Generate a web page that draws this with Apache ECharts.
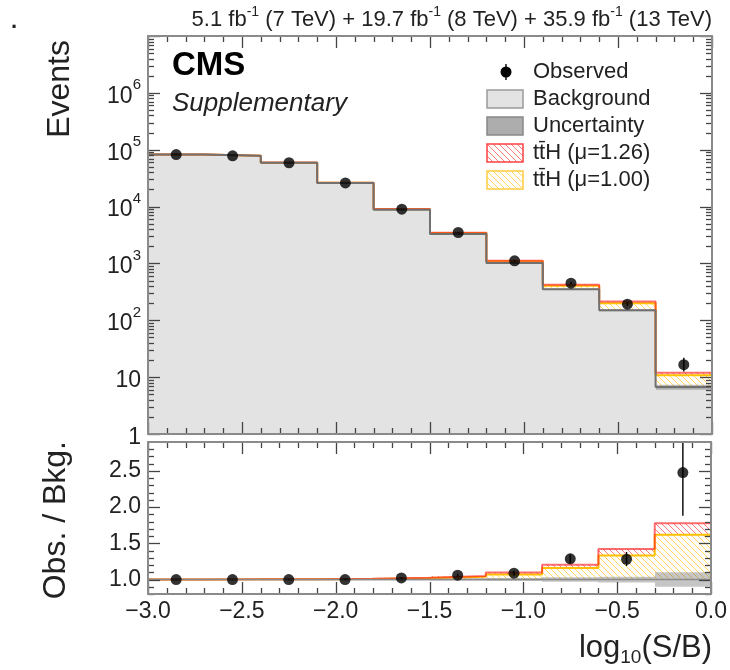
<!DOCTYPE html>
<html>
<head>
<meta charset="utf-8">
<title>ttH log10(S/B)</title>
<script src="https://cdn.jsdelivr.net/npm/echarts@6/dist/echarts.min.js"></script>
<style>
  html, body { margin: 0; padding: 0; background: #fff; }
  #chart { width: 730px; height: 670px; }
</style>
</head>
<body>
<div id="chart"></div>
<script>
// bins of log10(S/B)
const binEdges = [-3.0, -2.7, -2.4, -2.1, -1.8, -1.5, -1.2, -0.9, -0.6, -0.3, 0.0];
// yields per bin
const background = [82000, 78000, 59000, 26000, 8800, 3300, 1020, 350, 150, 6.7];
const observed = [82000, 78000, 59000, 26000, 9000, 3500, 1110, 450, 192, 16.6];
const obsErrLo = [290, 280, 243, 161, 95, 59, 33, 21, 14, 4.0];
const obsErrHi = [290, 280, 243, 161, 95, 59, 34, 22, 15, 5.3];
const sigMu100 = [120, 180, 240, 210, 176, 130, 71, 56, 50, 4.15];
const sigMu126 = [150, 230, 300, 265, 222, 165, 100, 71, 63, 5.2];
// relative background uncertainty
const bkgUnc = [0.01, 0.01, 0.012, 0.012, 0.015, 0.018, 0.022, 0.03, 0.04, 0.1];

const font = '"Liberation Sans", Arial, Helvetica, sans-serif';
const txt = '#222';
const frame = '#8a8a8a';
const tick = '#444';

// frame ticks, ROOT style: [value, length]
const xTicks = [];
for (let i = 0; i <= 30; i++) xTicks.push([-3 + i * 0.1, i % 5 === 0 ? 12 : 6]);
const logTicks = [];
for (let e = 0; e <= 7; e++) {
  logTicks.push([Math.pow(10, e), 12]);
  if (e < 7) for (let m = 2; m <= 9; m++) logTicks.push([m * Math.pow(10, e), 6]);
}
const ratioTicks = [];
for (let i = 0; i <= 20; i++) ratioTicks.push([0.8 + i * 0.1, (i + 8) % 5 === 0 ? 12 : 6]);

function hatch(color) {
  const s = 6;
  const c = document.createElement('canvas');
  c.width = s; c.height = s;
  const ctx = c.getContext('2d');
  ctx.fillStyle = '#fff';
  ctx.fillRect(0, 0, s, s);
  ctx.strokeStyle = color;
  ctx.lineWidth = 1;
  ctx.beginPath();
  ctx.moveTo(0, 0); ctx.lineTo(s, s);
  ctx.moveTo(-1, s - 1); ctx.lineTo(1, s + 1);
  ctx.moveTo(s - 1, -1); ctx.lineTo(s + 1, 1);
  ctx.stroke();
  return { image: c, repeat: 'repeat' };
}
const redHatch = hatch('#ff7a7a');
const yellowHatch = hatch('#ffd760');

const nb = background.length;
const centers = [];
for (let i = 0; i < nb; i++) centers.push((binEdges[i] + binEdges[i + 1]) / 2);

// rows [x0, x1, yLow, yHigh]
function rows(lowFn, highFn) {
  const r = [];
  for (let i = 0; i < nb; i++) r.push([binEdges[i], binEdges[i + 1], lowFn(i), highFn(i)]);
  return r;
}
function stepPts(fn) {
  const p = [];
  for (let i = 0; i < nb; i++) p.push([binEdges[i], fn(i)]);
  p.push([binEdges[nb], fn(nb - 1)]);
  return p;
}

function rectSeries(name, ax, data, fill, z) {
  return {
    name, type: 'custom', xAxisIndex: ax, yAxisIndex: ax, z, silent: true,
    data, encode: { x: [0, 1], y: [2, 3] },
    renderItem: (params, api) => {
      const a = api.coord([api.value(0), api.value(3)]);
      const b = api.coord([api.value(1), api.value(2)]);
      const cs = params.coordSys;
      const x0 = Math.round(a[0]), x1 = Math.round(b[0]);
      const shape = echarts.graphic.clipRectByRect(
        { x: x0, y: a[1], width: x1 - x0, height: b[1] - a[1] },
        { x: cs.x, y: cs.y, width: cs.width, height: cs.height });
      if (!shape) return null;
      return { type: 'rect', shape, style: { fill } };
    }
  };
}

function stepSeries(ax, data, color, width, z, opacity) {
  return {
    type: 'line', xAxisIndex: ax, yAxisIndex: ax, step: 'end', z, silent: true,
    showSymbol: false, symbol: 'none', data,
    lineStyle: { color, width, opacity: opacity == null ? 1 : opacity }
  };
}

function errSeries(ax, data, z) {
  return {
    type: 'custom', xAxisIndex: ax, yAxisIndex: ax, z, silent: true,
    data, encode: { x: 0, y: [1, 2] },
    renderItem: (params, api) => {
      const lo = api.coord([api.value(0), api.value(1)]);
      const hi = api.coord([api.value(0), api.value(2)]);
      const cs = params.coordSys;
      const y1 = Math.min(Math.max(hi[1], cs.y), cs.y + cs.height);
      const y2 = Math.min(Math.max(lo[1], cs.y), cs.y + cs.height);
      return { type: 'line', shape: { x1: lo[0], y1, x2: lo[0], y2 },
        style: { stroke: '#000', lineWidth: 1.4 } };
    }
  };
}

// tick marks on all four sides of a panel, placed through the panel's axes
function tickSeries(ax, anchor, xT, yT) {
  return {
    type: 'custom', xAxisIndex: ax, yAxisIndex: ax, z: 15, silent: true,
    data: [anchor], encode: { x: 0, y: 1 },
    renderItem: (params, api) => {
      const cs = params.coordSys;
      const l = cs.x, r = cs.x + cs.width, t = cs.y, b = cs.y + cs.height;
      const st = { stroke: tick, lineWidth: 1.3 };
      const kids = [];
      xT.forEach(([v, len]) => {
        const x = Math.round(api.coord([v, anchor[1]])[0]) + 0.5;
        kids.push({ type: 'line', shape: { x1: x, y1: b, x2: x, y2: b - len }, style: st });
        kids.push({ type: 'line', shape: { x1: x, y1: t, x2: x, y2: t + len }, style: st });
      });
      yT.forEach(([v, len]) => {
        const y = Math.round(api.coord([anchor[0], v])[1]) + 0.5;
        kids.push({ type: 'line', shape: { x1: l, y1: y, x2: l + len, y2: y }, style: st });
        kids.push({ type: 'line', shape: { x1: r, y1: y, x2: r - len, y2: y }, style: st });
      });
      return { type: 'group', children: kids };
    }
  };
}

function xAx(gridIndex, position, showLabel) {
  return {
    type: 'value', gridIndex, position, min: -3, max: 0, interval: 0.5, z: 20,
    axisLine: { show: true, onZero: false, lineStyle: { color: frame, width: 2 } },
    axisTick: { show: false },
    splitLine: { show: false },
    axisLabel: {
      show: showLabel, margin: 6, fontSize: 23, color: txt, fontFamily: font,
      showMinLabel: true, showMaxLabel: true,
      formatter: v => (Math.abs(v) < 1e-9 ? '0.0' : v.toFixed(1).replace('-', '\u2212'))
    }
  };
}

function logAx(position, showLabel) {
  return {
    type: 'log', gridIndex: 0, position, logBase: 10, min: 1, max: 1e7, splitNumber: 7, z: 20,
    axisLine: { show: true, onZero: false, lineStyle: { color: frame, width: 2 } },
    axisTick: { show: false },
    splitLine: { show: false },
    axisLabel: {
      show: showLabel, margin: 7, color: txt, fontFamily: font,
      formatter: v => {
        const e = Math.round(Math.log10(v));
        if (e === 0) return '{n|1}';
        if (e === 1) return '{n|10}';
        if (e >= 7) return '';
        return '{n|10}{s|' + e + '}';
      },
      rich: {
        n: { fontSize: 23, lineHeight: 30, verticalAlign: 'bottom', color: txt, fontFamily: font },
        s: { fontSize: 15, lineHeight: 15, verticalAlign: 'top', color: txt, fontFamily: font }
      }
    }
  };
}

function ratioAx(position, showLabel) {
  return {
    type: 'value', gridIndex: 1, position, min: 0.8, max: 2.9, interval: 0.1, z: 20,
    axisLine: { show: true, onZero: false, lineStyle: { color: frame, width: 2 } },
    axisTick: { show: false },
    splitLine: { show: false },
    axisLabel: {
      show: showLabel, margin: 7, fontSize: 23, color: txt, fontFamily: font,
      formatter: v => {
        const r = Math.round(v * 10);
        return (r % 5 === 0 && r >= 10 && r <= 25) ? (r / 10).toFixed(1) : '';
      }
    }
  };
}

const ratio = observed.map((o, i) => o / background[i]);

const series = [
  // upper panel
  rectSeries('Background', 0, rows(() => 1, i => background[i]), '#e3e3e3', 1),
  rectSeries('ttH 1.26', 0, rows(i => background[i], i => background[i] + sigMu126[i]), redHatch, 2),
  rectSeries('ttH 1.00', 0, rows(i => background[i], i => background[i] + sigMu100[i]), yellowHatch, 3),
  rectSeries('Uncertainty', 0, rows(i => background[i] * (1 - bkgUnc[i]), i => background[i] * (1 + bkgUnc[i])), 'rgba(110,110,110,0.45)', 4),
  stepSeries(0, stepPts(i => background[i] + sigMu100[i]), '#ffc000', 2, 5),
  stepSeries(0, stepPts(i => background[i] + sigMu126[i]), '#ff2020', 2, 6, 0.65),
  stepSeries(0, stepPts(i => background[i]), '#707070', 2, 7),
  errSeries(0, observed.map((o, i) => [centers[i], o - obsErrLo[i], o + obsErrHi[i]]), 8),
  {
    name: 'Observed', type: 'scatter', xAxisIndex: 0, yAxisIndex: 0, z: 9, silent: true,
    symbol: 'circle', symbolSize: 11, itemStyle: { color: '#000' },
    data: observed.map((o, i) => [centers[i], o])
  },
  tickSeries(0, [-1.5, 100], xTicks, logTicks),
  // lower panel
  rectSeries('r126', 1, rows(() => 1, i => 1 + sigMu126[i] / background[i]), redHatch, 2),
  rectSeries('r100', 1, rows(() => 1, i => 1 + sigMu100[i] / background[i]), yellowHatch, 3),
  rectSeries('rUnc', 1, rows(i => 1 - bkgUnc[i], i => 1 + bkgUnc[i]), 'rgba(110,110,110,0.4)', 4),
  stepSeries(1, stepPts(i => 1 + sigMu100[i] / background[i]), '#ffc000', 2, 5),
  stepSeries(1, stepPts(i => 1 + sigMu126[i] / background[i]), '#ff2020', 2, 6, 0.65),
  stepSeries(1, stepPts(() => 1), '#8a8a8a', 1.5, 7),
  errSeries(1, ratio.map((r, i) => [centers[i], r - obsErrLo[i] / background[i], r + obsErrHi[i] / background[i]]), 8),
  {
    type: 'scatter', xAxisIndex: 1, yAxisIndex: 1, z: 9, silent: true,
    symbol: 'circle', symbolSize: 11, itemStyle: { color: '#000' },
    data: ratio.map((r, i) => [centers[i], r])
  },
  tickSeries(1, [-1.5, 1.5], xTicks, ratioTicks)
];
// series above use 0 for the upper panel and 1 for the lower one;
// the real bottom/left axis indices are 0 and 2
series.forEach(s => {
  const k = s.xAxisIndex;
  s.xAxisIndex = k * 2;
  s.yAxisIndex = k * 2;
});

// legend drawn as graphics
const legendRows = [
  { label: 'Observed', y: 72 },
  { label: 'Background', y: 99, fill: '#e3e3e3', stroke: '#9a9a9a' },
  { label: 'Uncertainty', y: 126, fill: '#adadad', stroke: '#888' },
  { label: 'tt\u0304H (\u03bc=1.26)', y: 153, fill: redHatch, stroke: '#ff4040' },
  { label: 'tt\u0304H (\u03bc=1.00)', y: 180, fill: yellowHatch, stroke: '#ffcc40' }
];
const legendGraphics = [];
legendRows.forEach(r => {
  if (r.fill) {
    legendGraphics.push({ type: 'rect', x: 487, y: r.y - 9, shape: { x: 0, y: 0, width: 36, height: 18 },
      style: { fill: r.fill, stroke: r.stroke, lineWidth: 1.5 } });
  } else {
    legendGraphics.push({ type: 'line', shape: { x1: 506, y1: r.y - 8, x2: 506, y2: r.y + 8 }, style: { stroke: '#000', lineWidth: 1.4 } });
    legendGraphics.push({ type: 'circle', shape: { cx: 506, cy: r.y, r: 5.5 }, style: { fill: '#000' } });
  }
  legendGraphics.push({ type: 'text', x: 533, y: r.y,
    style: { text: r.label, font: '22px ' + font, fill: txt, textAlign: 'left', textVerticalAlign: 'middle' } });
});

const option = {
  animation: false,
  backgroundColor: '#fff',
  grid: [
    { left: 148, top: 36, width: 564, height: 398 },
    { left: 148, top: 442, width: 564, height: 152 }
  ],
  xAxis: [xAx(0, 'bottom', false), xAx(0, 'top', false), xAx(1, 'bottom', true), xAx(1, 'top', false)],
  yAxis: [logAx('left', true), logAx('right', false), ratioAx('left', true), ratioAx('right', false)],
  series,
  graphic: [
    { type: 'text', x: 14, y: 22, style: { text: '.', font: 'bold 22px ' + font, fill: txt, textAlign: 'center', textVerticalAlign: 'middle' } },
    { type: 'text', x: 712, y: 18,
      style: {
        text: '{a|5.1 fb}{s|-1}{a| (7 TeV) + 19.7 fb}{s|-1}{a| (8 TeV) + 35.9 fb}{s|-1}{a| (13 TeV)}',
        textAlign: 'right', textVerticalAlign: 'middle',
        rich: {
          a: { fontSize: 22, lineHeight: 26, verticalAlign: 'bottom', fontFamily: font, fill: txt },
          s: { fontSize: 14, lineHeight: 14, verticalAlign: 'top', fontFamily: font, fill: txt }
        }
      } },
    { type: 'text', x: 172, y: 66, style: { text: 'CMS', font: 'bold 33px ' + font, fill: '#000', textAlign: 'left', textVerticalAlign: 'middle' } },
    { type: 'text', x: 172, y: 104, style: { text: 'Supplementary', font: 'italic 26px ' + font, fill: txt, textAlign: 'left', textVerticalAlign: 'middle' } },
    { type: 'text', x: 60, y: 40, rotation: Math.PI / 2,
      style: { text: 'Events', font: '32px ' + font, fill: txt, textAlign: 'right', textVerticalAlign: 'middle' } },
    { type: 'text', x: 56, y: 441, rotation: Math.PI / 2,
      style: { text: 'Obs. / Bkg.', font: '32px ' + font, fill: txt, textAlign: 'right', textVerticalAlign: 'middle' } },
    { type: 'text', x: 712, y: 650,
      style: {
        text: '{a|log}{b|10}{a|(S/B)}',
        textAlign: 'right', textVerticalAlign: 'middle',
        rich: {
          a: { fontSize: 31, lineHeight: 34, verticalAlign: 'top', fontFamily: font, fill: txt },
          b: { fontSize: 19, lineHeight: 19, padding: [21, 0, 0, 0], verticalAlign: 'bottom', fontFamily: font, fill: txt }
        }
      } }
  ].concat(legendGraphics)
};

const chart = echarts.init(document.getElementById('chart'), null, { renderer: 'canvas' });
chart.setOption(option);
</script>
</body>
</html>
